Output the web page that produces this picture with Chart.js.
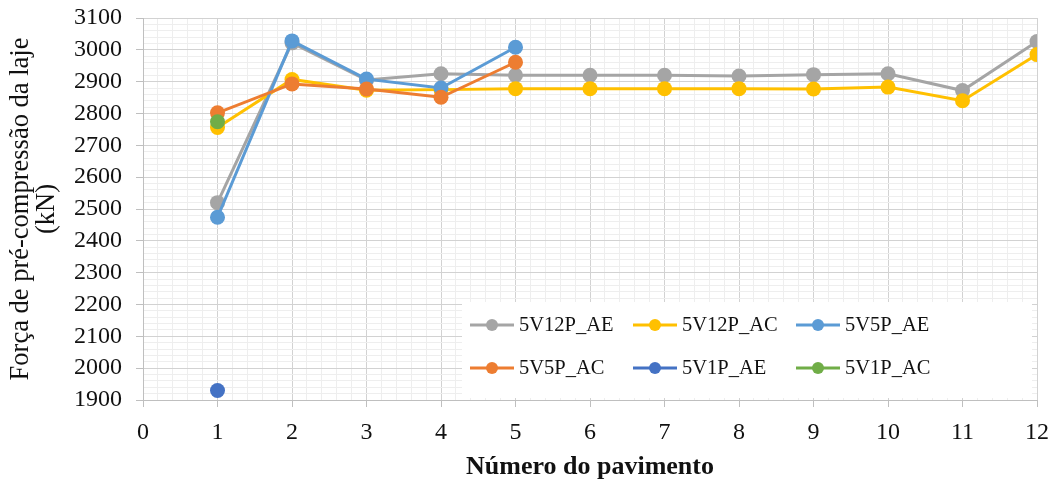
<!DOCTYPE html>
<html>
<head>
<meta charset="utf-8">
<script src="https://cdn.jsdelivr.net/npm/chart.js@4/dist/chart.umd.min.js"></script>
<style>
  html, body { margin: 0; padding: 0; background: #fff; }
  #wrap { width: 1056px; height: 483px; position: relative; }
</style>
</head>
<body>
<div id="wrap"><canvas id="myChart"></canvas></div>
<script>
// floors (x axis) and pre-compression force (kN) per series
const pavimentos = [1, 2, 3, 4, 5, 6, 7, 8, 9, 10, 11, 12];
const v12P_AE = [2520, 3022, 2905, 2925, 2920, 2920, 2920, 2918, 2922, 2925, 2872, 3026];
const v12P_AC = [2756, 2907, 2873, 2875, 2878, 2878, 2878, 2878, 2877, 2883, 2840, 2985];
const v5P_AE = [2474, 3028, 2908, 2880, 3008];
const v5P_AC = [2802, 2893, 2877, 2851, 2961];
const v1P_AE = [1930];
const v1P_AC = [2774];

const seriesNames = ["5V12P_AE", "5V12P_AC", "5V5P_AE", "5V5P_AC", "5V1P_AE", "5V1P_AC"];
const seriesValues = [v12P_AE, v12P_AC, v5P_AE, v5P_AC, v1P_AE, v1P_AC];
const colors = ["#A5A5A5", "#FFC000", "#5B9BD5", "#ED7D31", "#4472C4", "#70AD47"];

const serif = "'Liberation Serif', 'Times New Roman', serif";
Chart.defaults.font.family = serif;

const datasets = seriesValues.map(function (vals, i) {
  return {
    label: seriesNames[i],
    data: vals.map(function (v, k) { return { x: pavimentos[k], y: v }; }),
    borderColor: colors[i],
    backgroundColor: colors[i],
    borderWidth: 3,
    pointRadius: 7.5,
    pointHoverRadius: 7.5,
    pointBorderWidth: 0,
    order: seriesNames.length - i
  };
});

function isWhole(v, step) {
  const r = v / step;
  return Math.abs(r - Math.round(r)) < 1e-6;
}

// legend box drawn inside the plot area, like the original
const insideLegend = {
  id: "insideLegend",
  afterDraw(chart) {
    const ctx = chart.ctx;
    const left = 462, top = 302, w = 570, h = 96;
    ctx.save();
    ctx.fillStyle = "#ffffff";
    ctx.fillRect(left, top, w, h);
    ctx.font = "20.5px " + serif;
    ctx.textBaseline = "middle";
    const colX = [470, 633, 796];
    const rowY = [325, 368];
    for (let i = 0; i < seriesNames.length; i++) {
      const x = colX[i % 3];
      const y = rowY[Math.floor(i / 3)];
      ctx.strokeStyle = colors[i];
      ctx.lineWidth = 3;
      ctx.beginPath();
      ctx.moveTo(x, y);
      ctx.lineTo(x + 44, y);
      ctx.stroke();
      ctx.fillStyle = colors[i];
      ctx.beginPath();
      ctx.arc(x + 22, y, 6, 0, Math.PI * 2);
      ctx.fill();
      ctx.fillStyle = "#111";
      ctx.fillText(seriesNames[i], x + 49, y + 1);
    }
    ctx.restore();
  }
};

const whiteBg = {
  id: "whiteBg",
  beforeDraw(chart) {
    const ctx = chart.ctx;
    ctx.save();
    ctx.fillStyle = "#fff";
    ctx.fillRect(0, 0, chart.width, chart.height);
    ctx.restore();
  }
};

const ctx = document.getElementById("myChart").getContext("2d");
const myChart = new Chart(ctx, {
  type: "line",
  data: { datasets: datasets },
  plugins: [whiteBg, insideLegend],
  options: {
    responsive: true,
    maintainAspectRatio: false,
    animation: false,
    layout: { padding: { left: 0, top: 18, right: 19, bottom: 0 } },
    plugins: { legend: { display: false }, tooltip: { enabled: false } },
    scales: {
      x: {
        type: "linear",
        min: 0,
        max: 12,
        afterFit(scale) {
          scale.height = 83;
          scale.paddingLeft = 0;
          scale.paddingRight = 0;
        },
        border: { color: "#bfbfbf", width: 1 },
        grid: {
          color(c) { return isWhole(c.tick.value, 1) ? "#d2d2d2" : "#eeeeee"; },
          tickColor(c) { return isWhole(c.tick.value, 1) ? "#bfbfbf" : "rgba(0,0,0,0)"; },
          tickLength: 7,
          lineWidth: 1
        },
        ticks: {
          stepSize: 0.2,
          autoSkip: false,
          maxTicksLimit: 200,
          maxRotation: 0,
          padding: 11,
          color: "#111",
          font: { family: serif, size: 24 },
          callback(v) { return isWhole(v, 1) ? String(Math.round(v)) : ""; }
        },
        title: {
          display: true,
          text: "Número do pavimento",
          color: "#111",
          font: { family: serif, size: 26, weight: "bold" },
          padding: { top: 4, bottom: 0 }
        }
      },
      y: {
        min: 1900,
        max: 3100,
        afterFit(scale) {
          scale.width = 143;
          scale.paddingTop = 0;
          scale.paddingBottom = 0;
        },
        border: { color: "#bfbfbf", width: 1 },
        grid: {
          color(c) { return isWhole(c.tick.value, 100) ? "#d2d2d2" : "#eeeeee"; },
          tickColor(c) { return isWhole(c.tick.value, 100) ? "#bfbfbf" : "rgba(0,0,0,0)"; },
          tickLength: 7,
          lineWidth: 1
        },
        ticks: {
          stepSize: 20,
          autoSkip: false,
          maxTicksLimit: 200,
          padding: 14,
          color: "#111",
          font: { family: serif, size: 24 },
          callback(v) { return isWhole(v, 100) ? String(Math.round(v)) : ""; }
        },
        title: {
          display: true,
          text: ["Força de pré-compressão da laje", "(kN)"],
          color: "#111",
          font: { family: serif, size: 26.5, lineHeight: 0.98 },
          padding: { top: 8, bottom: 2 }
        }
      }
    }
  }
});
</script>
</body>
</html>
